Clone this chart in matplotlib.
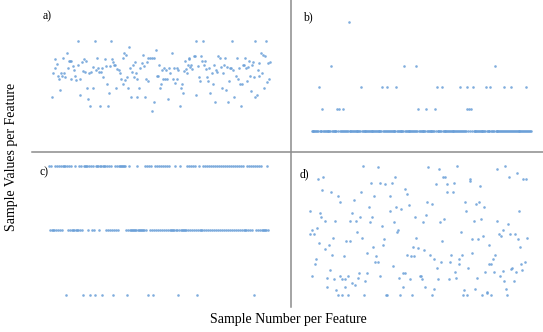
import matplotlib
matplotlib.use("Agg")
import matplotlib.pyplot as plt
from matplotlib.lines import Line2D

plt.rcParams['font.family'] = ['Liberation Serif', 'DejaVu Serif']

# panel a) scattered values, sample number vs value
a_x = [67, 70, 74, 76, 80, 83, 86, 91, 93, 97, 100, 103, 106, 110, 113, 117, 120, 124, 123, 128,
       131, 134, 138, 143, 145, 149, 151, 155, 159, 163, 166, 169, 171, 175, 177, 180, 183, 188, 190, 194,
       197, 201, 205, 208, 211, 213, 217, 220, 225, 227, 231, 233, 238, 239, 243, 246, 249, 252, 255, 259,
       262, 266, 270, 273, 278, 280, 283, 286, 289, 291, 294, 297, 300, 302, 305, 308, 312, 315, 318, 321,
       322, 326, 330, 335, 338, 341, 344, 347, 350, 353, 355, 360, 365, 367, 372, 373, 377, 380, 383, 386,
       389, 392, 396, 399, 402, 406, 409, 412, 415, 418, 421, 425, 428, 432, 436, 440, 442, 445, 449, 452,
       455, 459, 462, 465, 468, 470, 473, 476, 478, 481, 484, 487, 491, 494, 497, 499, 503, 507, 510, 512,
       516, 519, 521, 525, 528, 531, 535, 538, 541, 545, 548, 551, 555, 558, 561, 565, 569, 572, 575, 578,
       581, 584, 588, 591, 594, 597, 600, 604, 607, 610, 613, 618, 621, 623, 627, 630, 633, 636, 639, 642,
       645, 648, 650, 654, 657, 660, 662, 666, 669, 672, 675, 676, 681, 684, 687, 688, 693, 696, 698, 702,
       705, 708, 711, 713, 716, 720]
a_y = [59, 130, 173, 145, 157, 123, 113, 81, 130, 123, 177, 130, 120, 190, 145, 167, 167, 167, 112, 152,
       140, 122, 110, 227, 155, 65, 113, 163, 137, 174, 133, 167, 87, 54, 130, 33, 135, 87, 150, 227,
       140, 177, 145, 135, 33, 135, 145, 120, 174, 152, 98, 33, 70, 152, 227, 174, 165, 154, 154, 87,
       143, 140, 132, 112, 177, 98, 190, 110, 185, 120, 87, 209, 145, 58, 135, 154, 120, 165, 132, 58,
       112, 87, 145, 160, 185, 152, 58, 112, 165, 108, 175, 175, 17, 177, 44, 177, 199, 123, 123, 155,
       86, 97, 139, 112, 145, 112, 140, 112, 54, 145, 130, 190, 112, 145, 102, 112, 145, 140, 33, 86,
       98, 70, 136, 167, 143, 130, 155, 175, 172, 150, 155, 142, 183, 183, 227, 65, 152, 120, 107, 183,
       167, 227, 155, 167, 143, 120, 107, 145, 70, 130, 98, 155, 44, 140, 133, 183, 177, 149, 87, 130,
       155, 175, 80, 150, 44, 108, 145, 145, 227, 140, 59, 123, 177, 112, 145, 98, 33, 98, 155, 155,
       175, 145, 108, 150, 167, 123, 78, 155, 165, 120, 227, 59, 65, 140, 123, 162, 190, 130, 185, 87,
       183, 227, 105, 160, 113, 165]

# panel b) one level per sample, mostly at the baseline
b_levels = [0, 0, 0, 0, 0, 0, 0, 0, 2, 0, 0, 0, 1, 0, 0, 0, 0, 0, 0, 0, 0, 0, 3, 0, 0,
            0, 0, 0, 0, 1, 0, 1, 0, 0, 0, 0, 1, 0, 0, 0, 0, 0, 5, 0, 0, 0, 0, 0, 0, 0,
            0, 0, 0, 0, 0, 0, 2, 0, 0, 0, 0, 0, 0, 0, 0, 0, 0, 0, 0, 0, 0, 0, 0, 0, 0,
            0, 0, 0, 0, 0, 2, 0, 0, 0, 0, 2, 0, 0, 0, 0, 0, 0, 0, 0, 0, 0, 2, 0, 0, 0,
            0, 0, 0, 0, 0, 3, 0, 0, 0, 0, 0, 0, 0, 0, 0, 0, 0, 0, 3, 0, 0, 1, 0, 0, 0,
            0, 0, 0, 0, 0, 1, 0, 0, 0, 0, 0, 0, 0, 0, 0, 1, 0, 2, 0, 0, 0, 0, 0, 2, 0,
            0, 0, 0, 0, 0, 0, 0, 0, 0, 0, 0, 0, 0, 0, 0, 0, 0, 0, 0, 2, 0, 0, 0, 0, 0,
            0, 2, 1, 0, 1, 0, 1, 0, 2, 0, 0, 0, 0, 0, 0, 0, 0, 0, 0, 0, 0, 0, 0, 2, 0,
            0, 0, 0, 2, 0, 0, 0, 0, 3, 0, 0, 0, 0, 0, 0, 0, 0, 0, 2, 0, 0, 0, 0, 0, 0,
            0, 0, 2, 0, 0, 0, 0, 0, 0, 0, 0, 0, 0, 0, 0, 0, 0, 0, 0, 2, 0, 0, 0, 0, 0]

# panel c) three levels
c_levels = [2, 1, 2, 1, 1, 1, 2, 1, 2, 1, 2, 1, 2, 1, 2, 2, 2, 0, 2, 1,
            2, 1, 2, 1, 1, 1, 2, 1, 1, 1, 2, 1, 2, 1, 0, 2, 2, 2, 2, 1,
            2, 0, 2, 1, 2, 1, 0, 2, 2, 2, 1, 2, 2, 0, 2, 2, 2, 1, 2, 1,
            2, 1, 2, 1, 0, 1, 2, 1, 2, 1, 2, 2, 2, 2, 2, 2, 2, 1, 0, 1,
            2, 1, 1, 1, 1, 1, 1, 1, 2, 1, 1, 1, 1, 1, 1, 1, 2, 1, 2, 0,
            2, 1, 2, 1, 0, 1, 2, 1, 2, 1, 2, 1, 2, 1, 2, 1, 2, 1, 2, 1,
            2, 1, 1, 1, 1, 1, 2, 1, 1, 0, 1, 2, 1, 1, 1, 1, 1, 1, 2, 1,
            2, 1, 2, 1, 2, 1, 2, 1, 0, 1, 2, 1, 1, 1, 2, 1, 2, 1, 2, 1,
            2, 1, 2, 1, 2, 1, 2, 1, 2, 1, 2, 1, 2, 1, 2, 1, 2, 1, 2, 1,
            2, 1, 2, 1, 2, 1, 2, 1, 2, 1, 2, 1, 2, 1, 2, 1, 1, 1, 2, 1,
            2, 1, 2, 1, 2, 0, 2, 1, 2, 1, 2, 1, 2, 1, 1, 1, 1, 1, 2, 1]

# panel d) widely spread values
d_x = [220, 264, 415, 447, 502, 622, 646, 680, 314, 85, 99, 459, 465, 541, 539, 658, 700, 707, 243, 270,
       286, 305, 438, 472, 491, 570, 97, 123, 213, 346, 350, 470, 489, 145, 252, 299, 149, 192, 411, 425,
       526, 558, 567, 356, 237, 318, 333, 583, 61, 91, 187, 301, 528, 687, 93, 211, 245, 376, 407, 463,
       106, 136, 181, 198, 239, 312, 399, 451, 551, 573, 621, 275, 80, 65, 59, 71, 200, 325, 321, 513,
       626, 634, 639, 654, 660, 674, 129, 217, 168, 179, 282, 378, 457, 545, 564, 579, 685, 710, 87, 117,
       104, 249, 280, 369, 383, 401, 598, 690, 125, 162, 231, 258, 352, 363, 371, 420, 483, 515, 547, 614,
       78, 433, 506, 609, 74, 256, 263, 452, 480, 508, 596, 603, 704, 692, 440, 535, 308, 667, 664, 119,
       496, 586, 612, 638, 678, 697, 340, 345, 207, 232, 269, 67, 112, 132, 151, 156, 175, 204, 326, 359,
       390, 394, 396, 445, 476, 498, 560, 629, 642, 671, 226, 186, 194, 165, 110, 166, 138, 340, 405, 431,
       554, 648, 592, 143, 157, 173, 223, 288, 292, 330, 365, 427, 521, 520, 532, 577, 590, 603, 652]
d_y = [423, 418, 418, 412, 423, 412, 423, 400, 388, 384, 388, 388, 388, 383, 378, 388, 383, 383, 371, 371,
       367, 371, 367, 367, 371, 361, 349, 343, 343, 353, 337, 343, 343, 332, 332, 332, 315, 321, 315, 309,
       315, 309, 315, 305, 298, 298, 292, 298, 287, 282, 282, 287, 287, 287, 270, 270, 270, 270, 275, 264,
       258, 258, 258, 258, 253, 253, 253, 253, 258, 264, 258, 241, 236, 230, 219, 219, 224, 229, 224, 224,
       219, 213, 229, 247, 219, 219, 207, 207, 196, 196, 202, 207, 196, 202, 202, 213, 202, 207, 190, 185,
       172, 179, 185, 179, 175, 169, 185, 179, 155, 151, 162, 151, 155, 151, 151, 155, 155, 155, 162, 155,
       144, 144, 144, 144, 128, 134, 134, 134, 134, 128, 128, 128, 134, 128, 117, 117, 122, 117, 112, 111,
       103, 103, 103, 108, 103, 111, 100, 100, 100, 100, 93, 93, 87, 82, 93, 82, 93, 87, 87, 82,
       93, 93, 82, 82, 82, 87, 87, 93, 77, 77, 77, 70, 65, 82, 60, 60, 49, 60, 60, 53,
       54, 53, 43, 35, 35, 35, 35, 35, 35, 35, 35, 35, 49, 35, 35, 35, 40, 35, 35]

dot_color = '#6a9fd8'
W, H = 543, 332


def panel(rect):
    left, top, right, bottom = rect
    ax = fig.add_axes([left / W, 1 - bottom / H, (right - left) / W, (bottom - top) / H])
    ax.set_axis_off()
    return ax


fig = plt.figure(figsize=(5.43, 3.32), dpi=100)

ax_a = panel((30, 0, 290, 152))
ax_a.scatter(a_x, a_y, s=3.5, color=dot_color, alpha=0.85, linewidths=0)
ax_a.set_xlim(0, 780)
ax_a.set_ylim(-106, 350)

ax_b = panel((290, 0, 543, 152))
ax_b.scatter(range(len(b_levels)), b_levels, s=3.5, color=dot_color, alpha=0.85, linewidths=0)
ax_b.set_xlim(-24.7, 262.8)
ax_b.set_ylim(-0.96, 6.01)

ax_c = panel((30, 152, 290, 306))
ax_c.scatter(range(len(c_levels)), c_levels, s=3.5, color=dot_color, alpha=0.85, linewidths=0)
ax_c.set_xlim(-19.3, 240.7)
ax_c.set_ylim(-0.176, 2.218)

ax_d = panel((290, 152, 543, 306))
ax_d.scatter(d_x, d_y, s=3.5, color=dot_color, alpha=0.85, linewidths=0)
ax_d.set_xlim(0, 759)
ax_d.set_ylim(2, 464)

# panel letters
for x, y, lab in [(43, 16, 'a)'), (303, 17, 'b)'), (40, 172, 'c)'), (300, 174, 'd)')]:
    fig.text(x / W, 1 - y / H, lab, fontsize=8.5, va='center', ha='left')

# dividing cross
fig.add_artist(Line2D([32 / W, 1], [1 - 152.5 / H, 1 - 152.5 / H], color='#8c8c8c', lw=1.1))
fig.add_artist(Line2D([290.5 / W, 290.5 / W], [1, 1 - 307 / H], color='#8c8c8c', lw=1.1))

fig.text(288 / W, 1 - 320 / H, 'Sample Number per Feature', fontsize=10, ha='center', va='center')
fig.text(12 / W, 1 - 157 / H, 'Sample Values per Feature', fontsize=10, ha='center', va='center',
         rotation=90)

fig.savefig('out.png', dpi=100)
